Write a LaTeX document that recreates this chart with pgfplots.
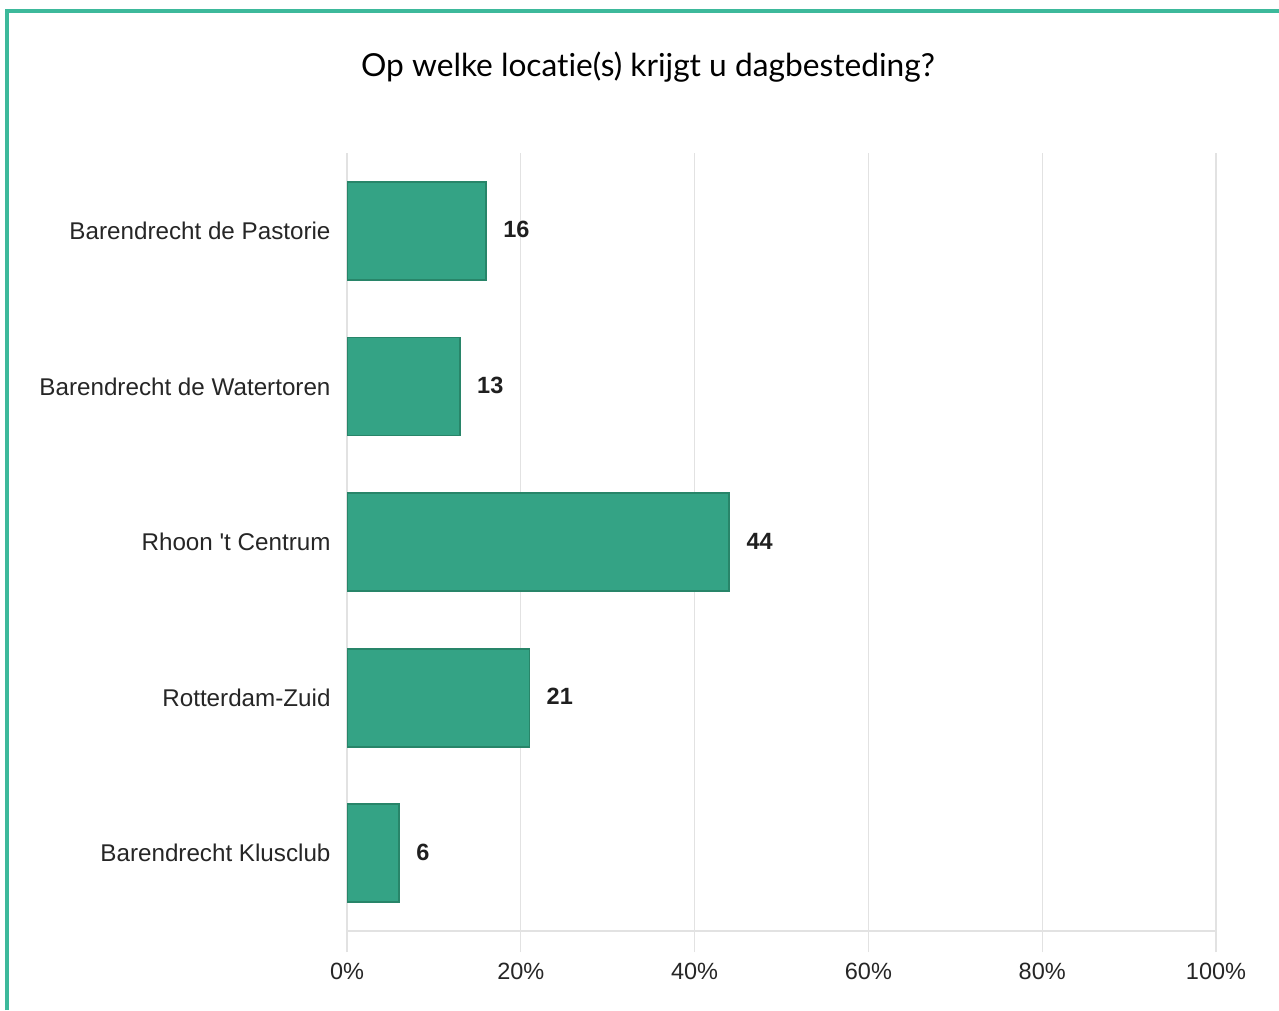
\documentclass[border=0pt]{standalone}
\usepackage{pgfplots}
\pgfplotsset{compat=1.18}
\usepackage{fontspec}
\setmainfont{Liberation Sans}
\newfontfamily\titlefont[Ligatures={NoCommon}]{Lato}
\definecolor{barfill}{HTML}{34A385}
\definecolor{barline}{HTML}{288569}
\definecolor{framec}{HTML}{3DB99B}
\definecolor{gridc}{HTML}{E2E2E2}
\definecolor{txt}{HTML}{262626}

% Locations (top to bottom) and number of responses
\pgfplotstableread{
pos value
4 16
3 13
2 44
1 21
0 6
}\locations

\begin{document}
\begin{tikzpicture}
\path[use as bounding box] (0pt,0pt) rectangle (1279pt,-1010pt);
\fill[white] (0pt,0pt) rectangle (1279pt,-1010pt);
% card border
\draw[framec, line width=4pt] (7pt,-1010pt) -- (7pt,-11pt) -- (1279pt,-11pt);
\node[anchor=base, font=\titlefont\fontsize{31.7}{36}\selectfont, text=black] at (648pt,-76pt)
  {Op welke locatie(s) krijgt u dagbesteding?};
\begin{axis}[
  at={(347pt,-931pt)}, anchor=south west,
  scale only axis, width=869pt, height=778pt,
  xbar, bar width=98pt,
  xmin=0, xmax=100, ymin=-0.5, ymax=4.5,
  xtick={0,20,40,60,80,100},
  xticklabel={\pgfmathprintnumber{\tick}\%},
  ytick={0,1,2,3,4},
  yticklabels={Barendrecht Klusclub, Rotterdam-Zuid, Rhoon \textquotesingle t Centrum, Barendrecht de Watertoren, Barendrecht de Pastorie},
  axis x line*=bottom, axis y line*=left,
  x axis line style={-, draw=gridc, line width=1.2pt},
  y axis line style={draw=none},
  xmajorgrids, major grid style={gridc, line width=1.2pt},
  xtick style={gridc, line width=1.2pt},
  ytick style={draw=none},
  xtick align=outside, major tick length=21pt,
  ticklabel style={font=\fontsize{23.5}{28}\selectfont, text=txt},
  xticklabel style={yshift=-8pt},
  yticklabel style={font=\fontsize{24.2}{28}\selectfont, xshift=8pt},
  /pgf/number format/assume math mode=true,
  nodes near coords={\pgfmathprintnumber{\pgfplotspointmeta}},
  point meta=x,
  every node near coord/.append style={font=\bfseries\fontsize{23.5}{28}\selectfont, text=black!88, anchor=west, xshift=13pt, yshift=1pt},
]
\addplot[fill=barfill, draw=barline, line width=1.8pt] table[x=value, y=pos] {\locations};
\end{axis}
\end{tikzpicture}
\end{document}
